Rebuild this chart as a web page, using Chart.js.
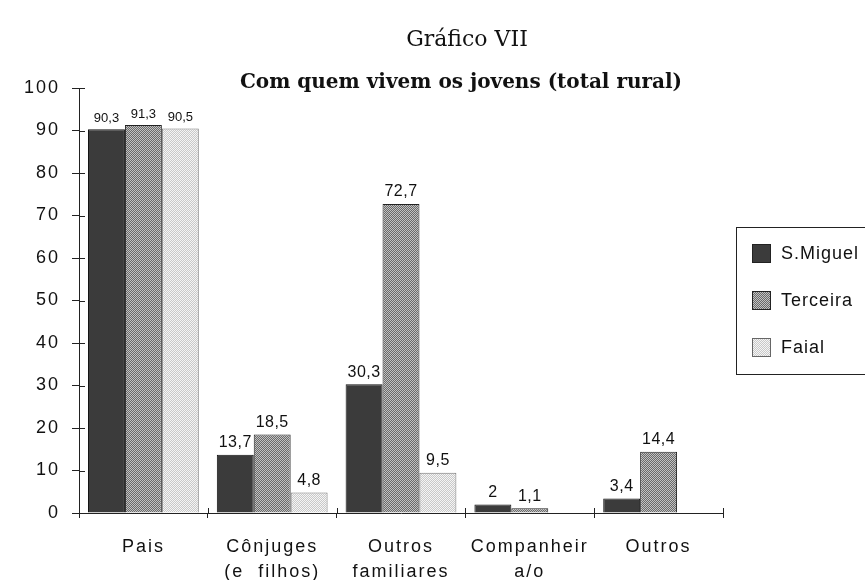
<!DOCTYPE html>
<html>
<head>
<meta charset="utf-8">
<script src="https://cdn.jsdelivr.net/npm/chart.js@4"></script>
<style>
  html, body { margin: 0; padding: 0; background: #ffffff; }
  #wrap { width: 865px; height: 580px; position: relative; }
</style>
</head>
<body>
<div id="wrap"><canvas id="c" width="865" height="580"></canvas></div>
<script>
// ---- Data ----
const titleText = 'Gráfico VII';
const subtitleText = 'Com quem vivem os jovens (total rural)';
const categories = [['Pais'], ['Cônjuges', '(e  filhos)'], ['Outros', 'familiares'], ['Companheir', 'a/o'], ['Outros']];
const seriesNames = ['S.Miguel', 'Terceira', 'Faial'];
const sMiguel = [90.3, 13.7, 30.3, 2, 3.4];
const terceira = [91.3, 18.5, 72.7, 1.1, 14.4];
const faial = [90.5, 4.8, 9.5, null, null];
const yTicks = [0, 10, 20, 30, 40, 50, 60, 70, 80, 90, 100];

// ---- Fill patterns ----
function checker(a, b) {
  const c = document.createElement('canvas');
  c.width = 2; c.height = 2;
  const g = c.getContext('2d');
  g.fillStyle = a; g.fillRect(0, 0, 2, 2);
  g.fillStyle = b; g.fillRect(0, 0, 1, 1); g.fillRect(1, 1, 1, 1);
  return g.createPattern(c, 'repeat');
}
const fillSM = '#3b3b3b';
const fillTE = checker('#6a6a6a', '#c2c2c2');
const fillFA = checker('#c9c9c9', '#f5f5f5');

const textPlugin = {
  id: 'textPlugin',
  beforeUpdate(chart) { chart.ctx.letterSpacing = '2px'; },
  beforeDraw(chart) { chart.ctx.letterSpacing = '2px'; },
  afterDatasetsDraw(chart) {
    const ctx = chart.ctx;
    ctx.save();
    ctx.fillStyle = '#111';
    ctx.textAlign = 'center';
    ctx.textBaseline = 'middle';
    chart.data.datasets.forEach((ds, di) => {
      const meta = chart.getDatasetMeta(di);
      meta.data.forEach((el, i) => {
        const v = ds.data[i];
        if (v === null || v === undefined) return;
        const small = i === 0;
        ctx.letterSpacing = small ? '0px' : '0.5px';
        ctx.font = (small ? '13px' : '16px') + ' "Liberation Sans", Arial, sans-serif';
        ctx.fillText(String(v).replace('.', ','), el.x, el.y - (small ? 11 : 12));
      });
    });
    // inward tick marks on axes
    ctx.strokeStyle = '#222';
    ctx.lineWidth = 1;
    const ys = chart.scales.y, xs = chart.scales.x;
    ctx.beginPath();
    ys.ticks.forEach((t, i) => {
      const py = Math.round(ys.getPixelForTick(i)) + 0.5;
      ctx.moveTo(ys.right, py); ctx.lineTo(ys.right + 6, py);
    });
    for (let i = 0; i <= xs.ticks.length; i++) {
      const px = Math.round(xs.left + (xs.right - xs.left) * i / xs.ticks.length) + 0.5;
      ctx.moveTo(px, xs.top); ctx.lineTo(px, xs.top - 5);
    }
    ctx.moveTo(ys.right - 7, xs.top + 0.5); ctx.lineTo(ys.right, xs.top + 0.5);
    ctx.stroke();
    ctx.restore();
  },
  afterDraw(chart) {
    const ctx = chart.ctx;
    ctx.save();
    ctx.letterSpacing = '0px';
    ctx.fillStyle = '#111';
    ctx.textAlign = 'center';
    ctx.textBaseline = 'middle';
    ctx.font = '22px "DejaVu Serif", "Liberation Serif", serif';
    ctx.fillText(titleText, 467, 40);
    ctx.font = 'bold 20px "DejaVu Serif", "Liberation Serif", serif';
    ctx.fillText(subtitleText, 461, 83);

    // legend box
    ctx.strokeStyle = '#222';
    ctx.lineWidth = 1;
    ctx.strokeRect(736.5, 227.5, 160, 147);
    const rows = [253, 300, 347];
    ctx.textAlign = 'left';
    ctx.letterSpacing = '1px';
    ctx.font = '18px "Liberation Sans", Arial, sans-serif';
    chart.data.datasets.forEach((ds, i) => {
      const y = rows[i];
      ctx.fillStyle = ds.backgroundColor;
      ctx.fillRect(752, y - 9, 18, 18);
      ctx.strokeStyle = i === 2 ? '#666' : '#222';
      ctx.strokeRect(752.5, y - 8.5, 18, 18);
      ctx.fillStyle = '#111';
      ctx.fillText(ds.label, 781, y + 1);
    });
    ctx.restore();
  }
};

new Chart(document.getElementById('c'), {
  type: 'bar',
  data: {
    labels: categories,
    datasets: [
      { label: seriesNames[0], data: sMiguel, backgroundColor: fillSM, borderColor: '#111', borderWidth: 1 },
      { label: seriesNames[1], data: terceira, backgroundColor: fillTE, borderColor: '#222', borderWidth: 1 },
      { label: seriesNames[2], data: faial, backgroundColor: fillFA, borderColor: '#777', borderWidth: 1 }
    ]
  },
  options: {
    responsive: false,
    animation: false,
    devicePixelRatio: 1,
    layout: { padding: { top: 88, right: 142, left: 0, bottom: 0 } },
    datasets: { bar: { categoryPercentage: 0.86, barPercentage: 1.0 } },
    plugins: {
      legend: { display: false },
      title: { display: false },
      tooltip: { enabled: false }
    },
    scales: {
      x: {
        grid: { display: true, drawOnChartArea: false, offset: true, tickLength: 5, color: '#222' },
        border: { display: true, color: '#222', width: 1 },
        ticks: {
          color: '#111',
          padding: 16,
          maxRotation: 0,
          autoSkip: false,
          font: { family: '"Liberation Sans", Arial, sans-serif', size: 18, lineHeight: 1.4 }
        },
        afterFit(s) { s.height = 67; }
      },
      y: {
        min: 0,
        max: 100,
        afterBuildTicks(s) { s.ticks = yTicks.map(v => ({ value: v })); },
        grid: { display: true, drawOnChartArea: false, tickLength: 7, color: '#222' },
        border: { display: true, color: '#222', width: 1 },
        ticks: {
          color: '#111',
          padding: 12,
          font: { family: '"Liberation Sans", Arial, sans-serif', size: 18 }
        },
        afterFit(s) { s.width = 79; }
      }
    }
  },
  plugins: [textPlugin]
});
</script>
</body>
</html>
